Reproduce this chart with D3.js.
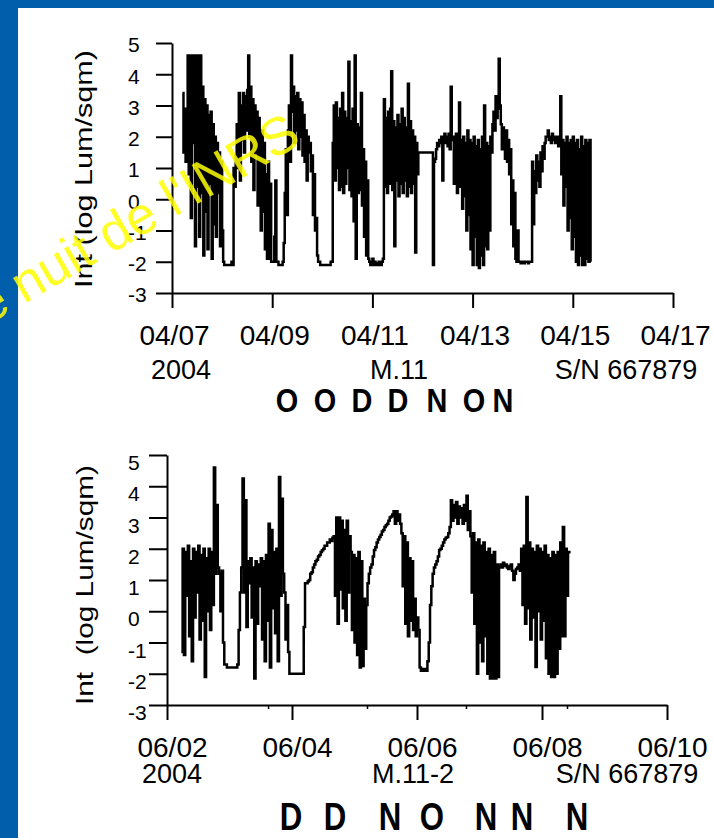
<!DOCTYPE html>
<html><head><meta charset="utf-8">
<script src="https://cdn.jsdelivr.net/npm/d3@7"></script>
<style>
html,body{margin:0;padding:0;background:#005EAA;}
svg{display:block;}
text{font-family:"Liberation Sans",Arial,Helvetica,sans-serif;fill:#000;}
</style></head><body>
<svg id="c" width="714" height="838"></svg>
<script>
// ---------------- DATA ----------------
const yTickValues = [-3,-2,-1,0,1,2,3,4,5];
const yLabel1 = "Int (log Lum/sqm)";
const yLabel2 = "Int  (log Lum/sqm)";

const xDomain1 = ["2004-04-07","2004-04-17"];
const xTicks1 = ["2004-04-07","2004-04-09","2004-04-11","2004-04-13","2004-04-15","2004-04-17"];
const sub1 = ["2004","M.11","S/N 667879"];
const letters1 = ["O","O","D","D","N","O","N"];
const start1 = "2004-04-07T05:00:00Z";
const stepMinutes1 = 30;
const values1 = [
 3.4,1.5,2.9,1.2,2.6,4.6,0.8,4.6,-0.6,4.6,1.8,4.6,-1.5,4.6,0.4,4.6,-1.2,4.6,
 0.2,3.6,-1.8,3.2,-0.4,3.0,-1.6,2.7,0.5,2.8,-1.9,2.4,
 -0.8,2.0,-1.2,1.8,0.2,1.5,-1.5,1.2,-1.0,
 -2.0,-2.1,-2.1,-2.1,-2.1,-2.1,-2.1,-2.1,-2.0,-2.1,
 1.0,0.4,1.4,2.4,1.0,3.4,0.6,3.0,1.9,3.4,1.5,3.3,2.2,3.5,4.6,2.0,3.6,1.2,3.2,0.3,3.0,1.5,2.8,-0.2,2.6,0.8,
 -1.0,2.2,-0.4,1.8,-1.6,0.8,-1.9,1.2,-1.9,0.5,
 -2.0,-2.0,-2.0,-1.2,0.6,-2.0,-2.0,-2.1,-2.1,-2.1,-2.1,-2.0,
 -1.4,0.2,1.6,-0.5,2.2,3.0,1.2,4.6,2.8,
 3.6,1.8,3.3,2.2,3.4,1.6,3.2,2.0,3.1,1.4,
 2.7,1.2,2.2,0.6,2.0,1.5,1.8,0.9,1.4,-0.5,0.8,-1.0,-0.6,-1.8,
 -2.0,-2.0,-2.1,-2.1,-2.1,-2.1,-2.1,-2.1,-2.1,-2.1,-2.1,-2.1,-2.0,-2.0,
 1.8,3.0,0.6,3.1,1.0,2.6,0.3,2.9,0.4,3.4,0.2,2.8,0.5,2.6,1.0,4.4,0.3,2.5,0.1,2.9,-0.7,4.6,-1.9,2.4,0.2,2.3,0.3,
 3.4,-0.2,1.6,-1.2,1.2,-1.8,0.6,
 -1.9,-2.0,-2.1,-2.0,-1.9,-2.1,-2.0,-2.1,-2.05,-2.1,-2.0,-2.1,-2.1,-2.0,-1.9,
 3.2,0.4,2.6,0.2,2.8,0.5,2.9,4.1,0.3,2.5,-1.5,2.3,0.6,2.7,0.1,2.4,0.5,2.9,0.2,2.6,0.6,2.3,0.1,3.7,0.4,2.5,0.2,2.2,0.5,2.0,-1.7,1.8,0.8,
 1.5,1.5,1.5,1.5,1.5,1.5,1.5,1.5,1.5,1.5,1.5,1.5,1.5,1.5,
 -2.1,
 1.2,1.3,1.6,1.8,1.7,1.9,1.8,2.0,0.6,1.9,2.1,1.8,2.0,1.7,2.1,1.6,3.6,1.9,2.0,0.5,1.8,2.1,0.2,1.9,
 3.1,0.4,1.9,-0.3,2.0,0.1,1.8,-1.0,2.2,-0.5,1.9,-1.6,1.8,-2.1,2.0,-1.2,1.7,-2.1,1.9,-2.2,1.6,-1.8,2.0,-2.1,3.0,-1.5,1.8,-1.6,1.7,-1.0,2.0,1.5,
 2.4,2.8,2.2,3.3,2.6,2.9,4.5,3.0,2.4,1.6,2.3,2.0,1.3,2.2,1.2,1.9,
 0.8,1.6,-0.8,0.6,-1.5,0.2,-1.9,-2.0,-1.0,-2.0,
 -2.0,-2.05,-2.0,-2.0,-2.05,-2.0,-2.0,-2.0,-2.05,-2.0,-2.0,-2.0,
 1.2,-0.8,0.9,0.2,1.4,0.6,1.2,0.4,1.5,0.9,1.7,1.3,1.8,2.0,
 2.0,2.2,1.9,2.0,1.8,2.1,1.9,2.0,1.8,1.9,2.0,1.7,
 1.8,3.3,
 0.8,1.9,-0.2,1.8,0.4,2.0,-1.0,1.8,-0.6,1.9,-1.6,2.0,-1.2,1.8,-2.0,1.9,-2.1,1.6,-1.8,2.0,-2.1,1.7,-2.1,1.9,-1.9,1.8,-2.0,
 1.9,-2.0
];

const xDomain2 = ["2004-06-02","2004-06-10"];
const xTicks2 = ["2004-06-02","2004-06-04","2004-06-06","2004-06-08","2004-06-10"];
const xMinorTicks2 = ["2004-06-03T14:48:00Z","2004-06-05T04:48:00Z","2004-06-06T18:48:00Z","2004-06-08T09:36:00Z"];
const sub2 = ["2004","M.11-2","S/N 667879"];
const letters2 = ["D","D","N","O","N","N","N"];
const start2 = "2004-06-02T05:30:00Z";
const stepMinutes2 = 30;
const values2 = [
 -1.3,2.0,-1.4,1.9,0.5,2.1,-0.8,1.6,-1.6,2.0,-0.2,1.9,0.6,2.1,-0.9,1.8,-0.3,2.0,-2.1,1.7,0.0,2.0,-0.6,1.9,0.2,
 4.6,1.2,3.4,
 1.4,1.2,0.0,1.3,-1.0,
 -1.7,-1.7,-1.8,-1.8,-1.8,-1.8,-1.8,-1.8,-1.8,-1.8,-1.7,
 -0.6,0.6,1.4,
 4.25,0.6,3.55,-0.5,1.6,0.9,1.7,-0.2,1.4,-2.15,1.6,-0.4,1.5,0.8,1.7,-0.9,1.6,-1.6,1.8,-0.3,2.8,-1.8,2.6,0.1,1.9,-0.7,2.0,-1.6,4.3,0.5,3.6,1.2,
 0.6,-0.9,0.2,-1.3,
 -2.0,-2.0,-2.0,-2.0,-2.0,-2.0,-2.0,-2.0,-2.0,-2.0,-2.0,
 -0.5,0.9,0.9,
 0.95,1.0,1.2,1.25,1.4,1.5,1.6,1.65,1.75,1.8,1.9,1.95,2.0,2.1,2.1,2.2,2.2,2.3,2.25,2.35,
 2.4,0.5,3.0,-0.4,3.0,0.7,2.9,0.1,2.6,-0.3,2.9,0.6,2.4,
 1.9,-0.6,1.8,-1.0,1.7,-1.4,1.9,-1.8,1.6,-1.75,0.4,-1.2,
 0.2,0.9,1.2,1.4,
 1.5,1.75,1.96,2.05,2.2,2.3,2.38,2.45,2.55,2.6,2.7,2.75,2.8,2.9,3.0,3.03,3.1,
 3.2,2.8,3.2,2.9,3.1,2.8,
 2.5,0.8,2.4,-0.4,2.2,-0.8,1.7,-0.3,1.6,-0.6,0.4,-0.8,-0.2,
 -0.6,-1.8,-1.9,-1.85,-1.9,-1.85,-1.9,-1.6,-1.0,0.2,
 0.8,1.2,1.4,1.5,1.6,
 1.75,1.96,2.0,2.1,2.2,2.3,2.35,2.38,2.5,2.7,
 3.55,2.9,3.4,3.0,3.5,2.8,3.35,3.0,3.3,2.8,3.4,2.9,3.7,2.6,3.2,
 2.4,0.6,2.5,-0.4,2.2,-2.0,2.3,-1.0,2.1,-1.6,2.2,-0.8,1.9,-2.0,2.0,-2.15,1.8,-2.15,
 1.9,-2.15,1.5,-2.1,1.4,
 1.5,1.4,1.55,1.45,1.5,1.4,1.35,1.45,1.5,1.3,1.0,1.2,1.35,1.4,1.5,1.3,
 2.0,0.2,2.1,-0.4,3.66,0.1,2.2,-0.9,2.0,-0.2,1.9,-1.78,2.1,0.0,2.0,-0.9,1.9,-0.3,2.1,-1.5,1.8,-2.0,1.7,-2.1,1.9,
 -2.1,1.8,-2.0,1.9,-1.2,2.2,-0.8,
 2.7,-0.8,2.0,0.5,1.9,1.85
];
const watermark = ["e", "nuit de l'INRS"];

// ---------------- DRAW ----------------
const svg = d3.select("#c");
const FONT = '"Liberation Sans",Arial,sans-serif';
svg.append("rect").attr("x",0).attr("y",0).attr("width",714).attr("height",838).attr("fill","#005EAA");
svg.append("rect").attr("x",18).attr("y",8).attr("width",696).attr("height",830).attr("fill","#fff");

function panel(o){
  const x = d3.scaleUtc().domain(o.xDomain.map(d=>new Date(d+"T00:00:00Z"))).range([o.x0,o.x1]);
  const y = d3.scaleLinear().domain([-3,5]).range([o.yb,o.yt]);
  const g = svg.append("g");
  const t0 = new Date(o.start).getTime();
  const pts = o.values.map((v,i)=>({t:new Date(t0+i*o.step*60000), v}));
  g.append("path").datum(pts)
    .attr("fill","none").attr("stroke","#000").attr("stroke-width",2.5)
    .attr("stroke-linejoin","miter")
    .attr("d", d3.line().x(d=>x(d.t)).y(d=>y(d.v)).curve(d3.curveStepAfter));

  // y axis
  const ya = g.append("g").attr("transform",`translate(${o.x0},0)`)
    .call(d3.axisLeft(y).tickValues(yTickValues).tickSize(o.yTick).tickSizeOuter(0).tickFormat(d=>String(d)));
  ya.select(".domain").attr("stroke-width",2);
  ya.selectAll(".tick line").attr("stroke-width",2);
  ya.selectAll(".tick text").attr("x",128-o.x0).attr("text-anchor","start")
    .attr("dy",o.yLabDy).style("font-size","21px").style("font-family",FONT).attr("fill","#111");

  // x axis
  const xa = g.append("g").attr("transform",`translate(0,${o.yb})`)
    .call(d3.axisBottom(x).tickValues(o.xTicks.map(d=>new Date(d+"T00:00:00Z"))).tickSize(15).tickSizeOuter(0)
      .tickFormat(d3.utcFormat("%m/%d")));
  xa.select(".domain").attr("stroke-width",2);
  xa.selectAll(".tick line").attr("stroke-width",2);
  xa.selectAll(".tick text").attr("dx",o.xLabDx).attr("y",o.xLabY - o.yb).attr("dy",0)
    .style("font-size","28px").style("font-family",FONT).attr("fill","#111");

  if (o.minor) {
    g.append("g").attr("transform",`translate(0,${o.yb})`)
      .call(d3.axisBottom(x).tickValues(o.minor.map(d=>new Date(d))).tickSize(4).tickFormat(""))
      .call(s=>s.select(".domain").remove())
      .selectAll(".tick line").attr("stroke-width",1.5);
  }

  // sub labels
  o.sub.forEach((s,i)=>{
    g.append("text").attr("x",o.subX[i]).attr("y",o.subY).attr("text-anchor","middle")
      .style("font-size","27px").attr("fill","#111").text(s);
  });

  // y label
  g.append("text").attr("transform",`translate(${o.ylx},${o.ylc}) rotate(-90)`)
    .attr("text-anchor","middle").style("font-size","24.5px").style("white-space","pre")
    .attr("textLength",o.yll).attr("lengthAdjust","spacingAndGlyphs").attr("fill","#111")
    .text(o.ylabel);

  // letters
  o.letters.forEach((L,i)=>{
    g.append("text").attr("transform",`translate(${o.letX[i]},${o.letY}) scale(${o.letSx},1)`)
      .attr("text-anchor","middle").style("font-size",o.letFs+"px").style("font-weight","bold")
      .attr("fill","#111").text(L);
  });
}

panel({xDomain:xDomain1, xTicks:xTicks1, x0:172, x1:673, yt:43, yb:293, yTick:16, yLabDy:"0.42em",
  start:start1, step:stepMinutes1, values:values1, xLabDx:2, xLabY:345,
  sub:sub1, subX:[181,399,626], subY:379, ylabel:yLabel1, ylx:92, ylc:169, yll:238,
  letters:letters1, letX:[287,325,362,398,437,474,503], letY:412, letFs:34, letSx:0.85});

panel({xDomain:xDomain2, xTicks:xTicks2, x0:167, x1:667, yt:455, yb:705, yTick:18, yLabDy:"0.7em",
  start:start2, step:stepMinutes2, values:values2, xLabDx:5, xLabY:757, minor:xMinorTicks2,
  sub:sub2, subX:[172,413,627], subY:783, ylabel:yLabel2, ylx:93, ylc:585, yll:240,
  letters:letters2, letX:[291,335,390,432,486,522,577], letY:830, letFs:39, letSx:0.8});

// watermark
const wm = svg.append("g").attr("transform","translate(24,304) rotate(-30)")
  .style("font-size","53px").attr("opacity",0.85);
wm.append("text").attr("x",-13).attr("text-anchor","end").style("fill","#ffff00").text(watermark[0]);
wm.append("text").attr("x",0).style("fill","#ffff00").text(watermark[1]);
</script>
</body></html>
